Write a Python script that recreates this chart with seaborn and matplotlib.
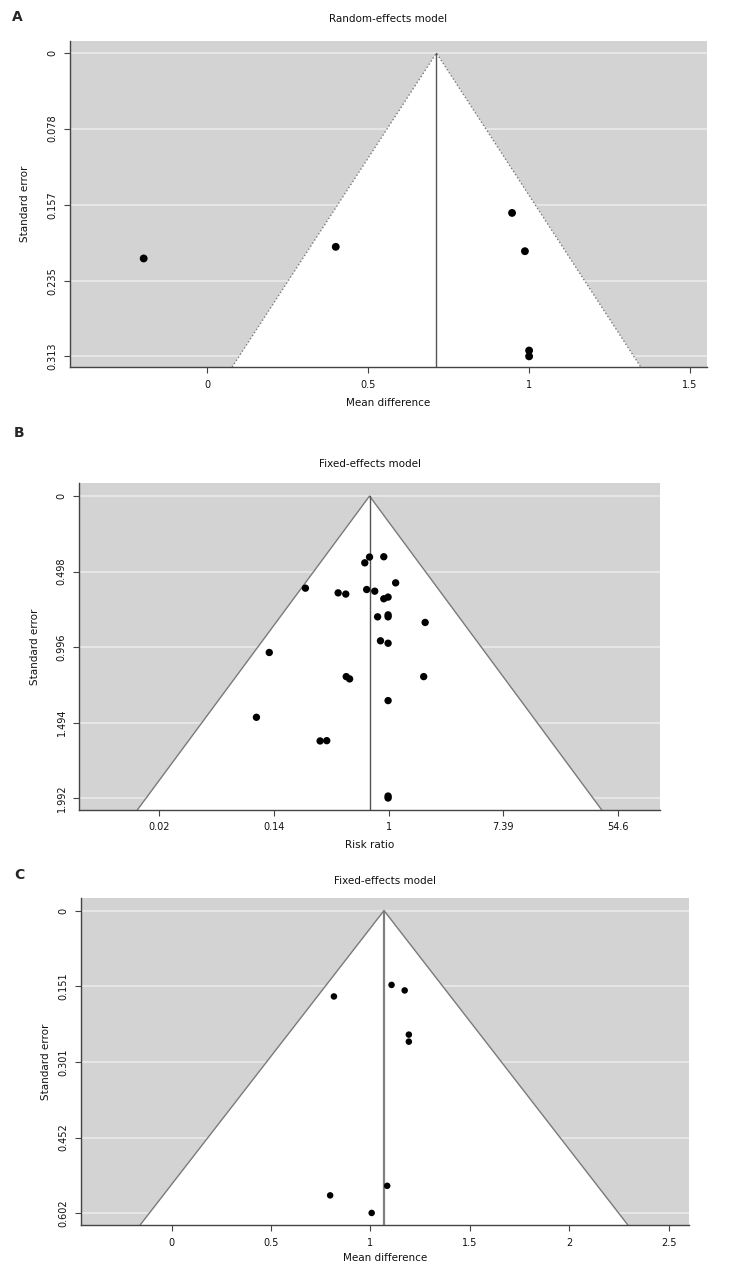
import numpy as np
import pandas as pd
import matplotlib.pyplot as plt
import seaborn as sns

# Panel A - random-effects, mean difference
a_md = [-0.197, 0.400, 0.948, 0.988, 1.001, 1.001]
a_se = [0.212, 0.200, 0.165, 0.2045, 0.307, 0.313]
a_pooled = 0.713
a_xticks = [0, 0.5, 1, 1.5]
a_yticks = [0, 0.078, 0.157, 0.235, 0.313]

# Panel B - fixed-effects, log risk ratio
b_logrr = [-0.332, -0.083, -0.415, 0.124, -1.452, -0.880, -0.747, -0.382, -0.241,
           -0.083, -0.008, -0.191, -0.008, -0.008, 0.639, -0.141, -0.008, -2.083,
           -0.739, -0.680, 0.614, -0.008, -2.307, -1.195, -1.079, -0.008, -0.008]
b_se = [0.402, 0.400, 0.440, 0.572, 0.607, 0.638, 0.646, 0.616, 0.627,
        0.677, 0.666, 0.796, 0.783, 0.796, 0.833, 0.954, 0.970, 1.031,
        1.190, 1.205, 1.190, 1.348, 1.458, 1.614, 1.612, 1.977, 1.990]
b_pooled = -0.332
b_xticks = [-4, -2, 0, 2, 4]
b_xticklabels = ["0.02", "0.14", "1", "7.39", "54.6"]
b_yticks = [0, 0.498, 0.996, 1.494, 1.992]

# Panel C - fixed-effects, mean difference
c_md = [1.106, 1.172, 0.816, 1.193, 1.193, 1.084, 0.797, 1.006]
c_se = [0.148, 0.159, 0.171, 0.247, 0.261, 0.548, 0.567, 0.602]
c_pooled = 1.068
c_xticks = [0, 0.5, 1, 1.5, 2, 2.5]
c_yticks = [0, 0.151, 0.301, 0.452, 0.602]

sns.set_style("ticks")
plt.rcParams['font.family'] = ['DejaVu Sans']

W, H = 743, 1279
fig = plt.figure(figsize=(W / 100, H / 100), dpi=100)


def make_ax(l, t, r, b):
    return fig.add_axes([l / W, 1 - b / H, (r - l) / W, (b - t) / H])


def funnel(ax, x, se, pooled, xlim, ylim, xticks, yticks, title, xlabel,
           box, title_y, xlab_y, ylab_x, edge_ls, center_col, center_lw, dot_s,
           xticklabels=None):
    l, t, r, b = box
    ax.set_facecolor("#d3d3d3")
    ymax = ylim[1]
    ax.fill([pooled, pooled - 1.96 * ymax, pooled + 1.96 * ymax], [0, ymax, ymax],
            color="white", zorder=1, lw=0)
    ax.plot([pooled - 1.96 * ymax, pooled, pooled + 1.96 * ymax], [ymax, 0, ymax],
            color="#7a7a7a", ls=edge_ls, lw=1, zorder=2)
    ax.plot([pooled, pooled], [0, ymax], color=center_col, lw=center_lw, zorder=2)
    df = pd.DataFrame({"x": x, "se": se})
    sns.scatterplot(data=df, x="x", y="se", ax=ax, color="black", s=dot_s,
                    edgecolor="none", zorder=3)
    ax.set_xlim(*xlim)
    ax.set_ylim(ylim[1], ylim[0])
    ax.set_xticks(xticks)
    if xticklabels is None:
        xticklabels = [f"{v:g}" for v in xticks]
    ax.set_xticklabels(xticklabels)
    ax.set_yticks(yticks)
    ax.set_yticklabels([f"{v:g}" for v in yticks], rotation=90, va="center")
    ax.grid(axis="y", color="#ececec", lw=1.1)
    ax.set_axisbelow(True)
    for s in ["top", "right"]:
        ax.spines[s].set_visible(False)
    for s in ["left", "bottom"]:
        ax.spines[s].set_color("#444444")
        ax.spines[s].set_linewidth(1.0)
    ax.tick_params(length=4, width=0.8, color="#444444", labelsize=7, pad=5,
                   labelcolor="#111111")
    ax.set_xlabel("")
    ax.set_ylabel("")
    hpx = b - t
    wpx = r - l
    ax.text(0.5, 1 + (t - title_y) / hpx, title, transform=ax.transAxes,
            ha="center", va="center", fontsize=7.5, color="#111111")
    ax.text(0.5, -(xlab_y - b) / hpx, xlabel, transform=ax.transAxes,
            ha="center", va="center", fontsize=7.5, color="#111111")
    ax.text(-(l - ylab_x) / wpx, 0.5, "Standard error", transform=ax.transAxes,
            ha="center", va="center", rotation=90, fontsize=7.5, color="#111111")


axA = make_ax(70, 41, 706.7, 367)
funnel(axA, a_md, a_se, a_pooled, (-0.426, 1.553), (-0.0124, 0.324),
       a_xticks, a_yticks, "Random-effects model", "Mean difference",
       (70, 41, 706.7, 367), 19, 403, 25, ":", "#555555", 1.0, 32)

axB = make_ax(79.3, 483, 660, 810)
funnel(axB, b_logrr, b_se, b_pooled, (-5.40, 4.74), (-0.086, 2.069),
       b_xticks, b_yticks, "Fixed-effects model", "Risk ratio",
       (79.3, 483, 660, 810), 464, 845, 35, "-", "#555555", 1.0, 28,
       xticklabels=b_xticklabels)

axC = make_ax(80.7, 898, 689.3, 1225)
funnel(axC, c_md, c_se, c_pooled, (-0.458, 2.604), (-0.025, 0.626),
       c_xticks, c_yticks, "Fixed-effects model", "Mean difference",
       (80.7, 898, 689.3, 1225), 881, 1258, 46, "-", "#808080", 1.6, 22)

for letter, (px, py) in zip("ABC", [(17, 17), (19, 433), (19, 875)]):
    fig.text(px / W, 1 - py / H, letter, ha="center", va="center",
             fontsize=10, fontweight="bold")

fig.savefig("out.png", dpi=100)
